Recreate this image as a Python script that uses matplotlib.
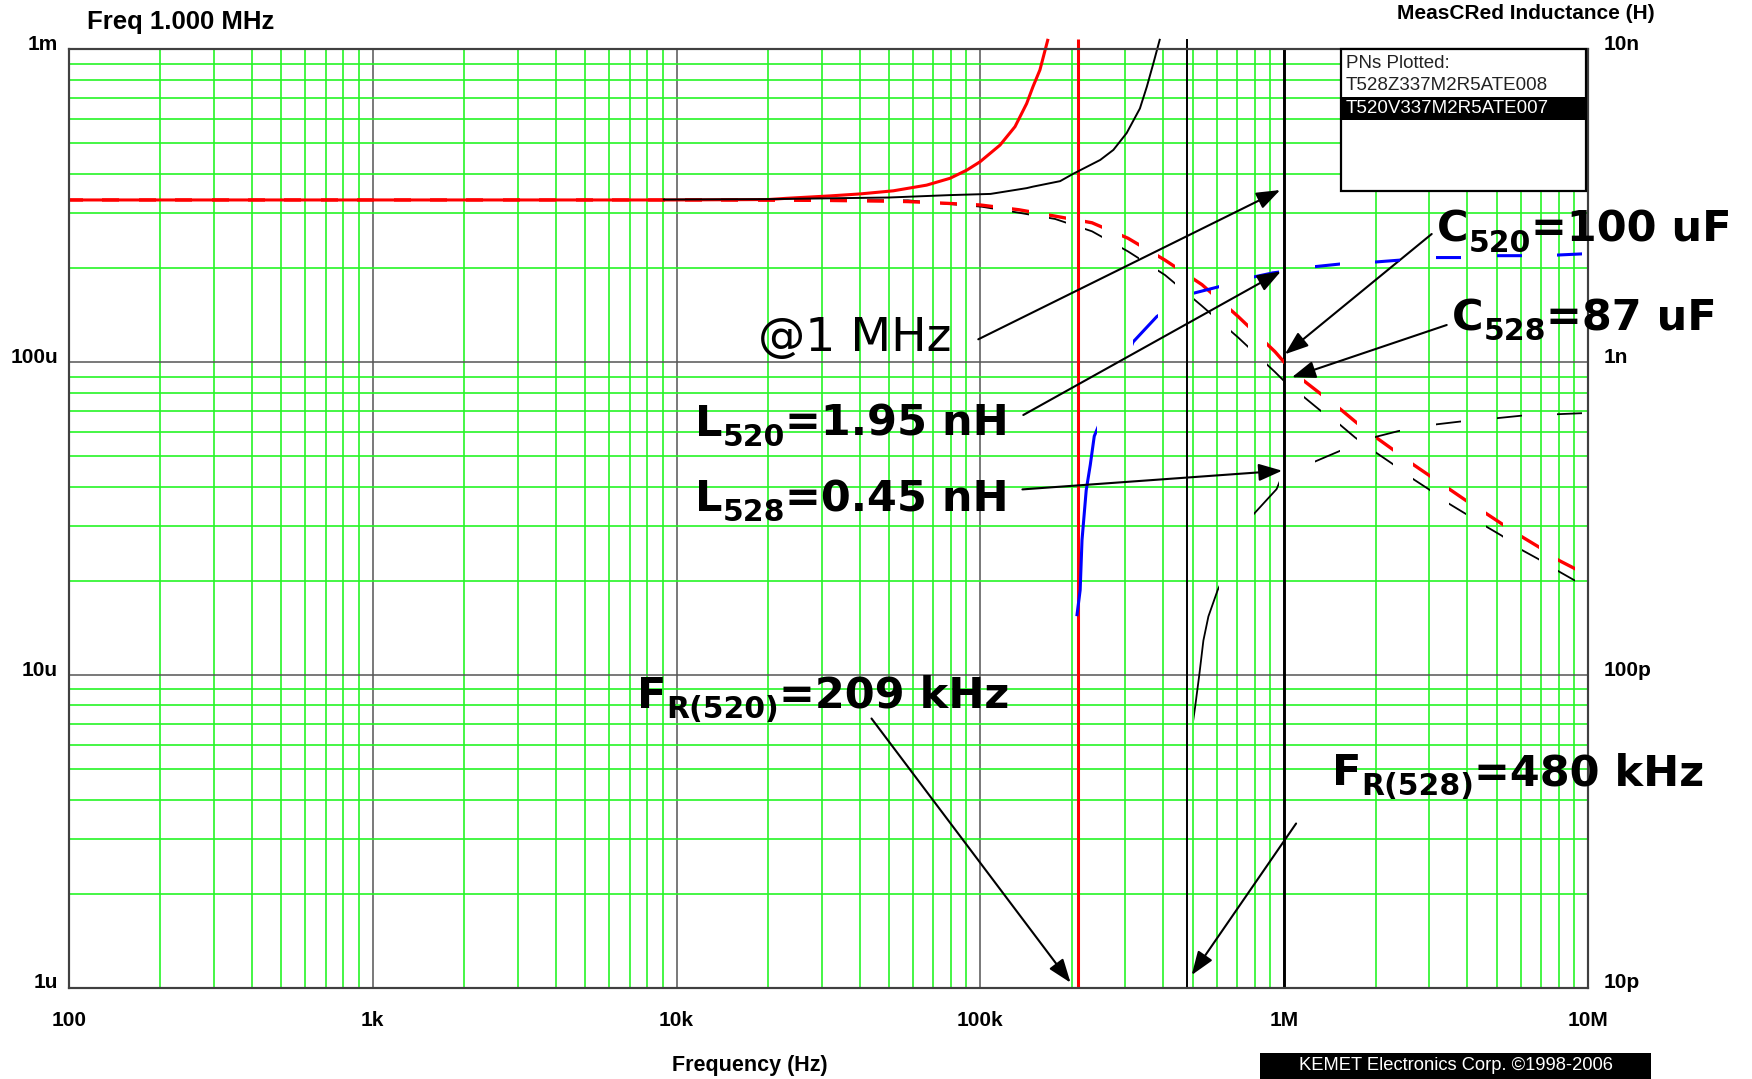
import numpy as np
import matplotlib
matplotlib.use("Agg")
import matplotlib.pyplot as plt
from matplotlib import font_manager
from matplotlib.path import Path
from matplotlib.patches import Rectangle, ArrowStyle
from matplotlib.transforms import IdentityTransform, blended_transform_factory, offset_copy
from matplotlib.ticker import FixedLocator, LogLocator, NullFormatter, NullLocator

# ---------------------------------------------------------------- data
# T520V337M2R5ATE007 (red) - effective capacitance, solid
t520_ceff_f = [1e2, 1e3, 1e4, 2.0e4, 2.3e4, 3.2e4, 4.02e4, 5.17e4, 6.65e4, 7.94e4,
               9.02e4, 9.97e4, 1.16e5, 1.30e5, 1.42e5, 1.49e5, 1.57e5, 1.67e5]
t520_ceff = [330e-6, 330e-6, 330e-6, 331e-6, 334e-6, 340e-6, 345e-6, 353e-6, 368e-6,
             387e-6, 411e-6, 437e-6, 494e-6, 566e-6, 671e-6, 760e-6, 859e-6, 1.08e-3]
# T520 capacitance, dashed
t520_c_f = [1e2, 1e3, 1e4, 3.0e4, 5.0e4, 5.8e4, 7.7e4, 1.0e5, 1.34e5, 1.76e5, 2.33e5,
            3.06e5, 4.05e5, 5.36e5, 7.05e5, 9.33e5, 1.0e6, 1.13e6, 1.31e6, 1.53e6,
            1.73e6, 2.02e6, 2.29e6, 2.65e6, 3.04e6, 3.47e6, 3.99e6, 4.61e6, 5.24e6,
            6.05e6, 6.92e6, 7.99e6, 9.13e6]
t520_c = [330e-6, 330e-6, 330e-6, 329e-6, 327e-6, 326e-6, 322e-6, 318e-6, 307e-6,
          293e-6, 279e-6, 249e-6, 212e-6, 177e-6, 140e-6, 108e-6, 100e-6, 89e-6,
          79.6e-6, 70.8e-6, 64.1e-6, 57.2e-6, 52.4e-6, 47.2e-6, 43.1e-6, 39.5e-6,
          36.0e-6, 32.9e-6, 30.3e-6, 27.7e-6, 25.6e-6, 23.3e-6, 21.8e-6]
# T520 inductance (right axis), blue dashed
t520_l_f = [2.08e5, 2.13e5, 2.16e5, 2.23e5, 2.30e5, 2.37e5, 3.18e5, 3.81e5, 5.01e5,
            6.06e5, 7.89e5, 9.18e5, 1.0e6, 1.26e6, 1.53e6, 1.99e6, 2.41e6, 3.16e6,
            3.85e6, 5.0e6, 6.08e6, 7.93e6, 9.66e6]
t520_l = [156e-12, 187e-12, 270e-12, 390e-12, 470e-12, 580e-12, 1.16e-9, 1.40e-9,
          1.66e-9, 1.74e-9, 1.87e-9, 1.93e-9, 1.95e-9, 2.02e-9, 2.06e-9, 2.09e-9,
          2.12e-9, 2.16e-9, 2.16e-9, 2.19e-9, 2.19e-9, 2.20e-9, 2.22e-9]
t520_fr = 209e3

# T528Z337M2R5ATE008 (black) - effective capacitance, solid
t528_ceff_f = [9e3, 2.0e4, 5.0e4, 7.94e4, 1.08e5, 1.42e5, 1.49e5, 1.83e5, 2.02e5,
               2.48e5, 2.74e5, 3.03e5, 3.35e5, 3.53e5, 3.71e5, 3.90e5]
t528_ceff = [331e-6, 332e-6, 336e-6, 342e-6, 345e-6, 360e-6, 364e-6, 379e-6, 400e-6,
             443e-6, 477e-6, 540e-6, 647e-6, 759e-6, 902e-6, 1.08e-3]
# T528 capacitance, dashed
t528_c_f = [9e3, 3.0e4, 5.78e4, 7.71e4, 1.01e5, 1.35e5, 1.76e5, 2.33e5, 3.06e5,
            4.05e5, 5.33e5, 7.05e5, 9.33e5, 1.0e6, 1.15e6, 1.31e6, 1.53e6, 1.71e6,
            2.0e6, 2.26e6, 2.63e6, 3.01e6, 3.47e6, 3.97e6, 4.58e6, 5.2e6, 5.97e6,
            6.86e6, 7.98e6, 9.18e6]
t528_c = [331e-6, 330e-6, 329e-6, 321e-6, 314e-6, 300e-6, 287e-6, 262e-6, 226e-6,
          190e-6, 152e-6, 120e-6, 93e-6, 87e-6, 78e-6, 70.3e-6, 63e-6, 57.5e-6,
          51.5e-6, 47.5e-6, 42.6e-6, 39.1e-6, 35.4e-6, 32.7e-6, 30.0e-6, 27.9e-6,
          25.3e-6, 23.5e-6, 21.5e-6, 19.9e-6]
# T528 inductance (right axis), black dashed
t528_l_f = [5.0e5, 5.09e5, 5.26e5, 5.42e5, 5.63e5, 6.04e5, 7.89e5, 9.44e5, 1.0e6,
            1.26e6, 1.55e6, 2.01e6, 2.37e6, 3.17e6, 3.79e6, 4.98e6, 6.07e6, 7.93e6,
            9.53e6]
t528_l = [70e-12, 79e-12, 101e-12, 129e-12, 154e-12, 187e-12, 325e-12, 393e-12,
          450e-12, 481e-12, 524e-12, 578e-12, 602e-12, 633e-12, 646e-12, 662e-12,
          675e-12, 682e-12, 687e-12]
t528_fr = 480e3

freq_ticks = [1e2, 1e3, 1e4, 1e5, 1e6, 1e7]
freq_labels = ["100", "1k", "10k", "100k", "1M", "10M"]
cap_ticks = [1e-6, 1e-5, 1e-4, 1e-3]
cap_labels = ["1u", "10u", "100u", "1m"]
ind_ticks = [1e-11, 1e-10, 1e-9, 1e-8]
ind_labels = ["10p", "100p", "1n", "10n"]
part_numbers = ["T528Z337M2R5ATE008", "T520V337M2R5ATE007"]
cursor_freq = 1e6

# ---------------------------------------------------------------- figure
W, H, DPI = 1752, 1079, 100
plt.rcParams["font.family"] = ["Liberation Sans", "DejaVu Sans"]

fig = plt.figure(figsize=(W / DPI, H / DPI), dpi=DPI, facecolor="white")


def fx(x):
    return x / W


def fy(y):
    return 1 - y / H


L, R, T, B = 69, 1588, 49.3, 988
ax = fig.add_axes([fx(L), fy(B), (R - L) / W, (B - T) / H])
ax2 = ax.twinx()

GREEN = "#26f526"
for a in (ax, ax2):
    a.set_xscale("log")
    a.set_yscale("log")
    a.set_xlim(1e2, 1e7)
ax.set_ylim(1e-6, 1e-3)
ax2.set_ylim(1e-11, 1e-8)

ax.xaxis.set_major_locator(FixedLocator(freq_ticks))
ax.yaxis.set_major_locator(FixedLocator(cap_ticks))
ax.xaxis.set_minor_locator(LogLocator(base=10, subs=np.arange(2, 10), numticks=30))
ax.yaxis.set_minor_locator(LogLocator(base=10, subs=np.arange(2, 10), numticks=30))
for axis in (ax.xaxis, ax.yaxis):
    axis.set_major_formatter(NullFormatter())
    axis.set_minor_formatter(NullFormatter())
ax2.yaxis.set_major_locator(NullLocator())
ax2.yaxis.set_minor_locator(NullLocator())
ax2.yaxis.set_major_formatter(NullFormatter())
ax2.yaxis.set_minor_formatter(NullFormatter())

ax.set_axisbelow(True)
ax.grid(which="minor", color=GREEN, lw=1.2)
ax.grid(which="major", color="#555555", lw=1.1)
ax.tick_params(which="both", length=0)
ax2.tick_params(which="both", length=0)
for a in (ax, ax2):
    for s in a.spines.values():
        s.set_color("#404040")
        s.set_linewidth(1.5)

# cursor line at the readout frequency
ax.axvline(cursor_freq, color="black", lw=2.1, zorder=1.6)

# tick labels
tick_font = dict(fontfamily=["Liberation Sans", "DejaVu Sans"], fontweight="bold", fontsize=15)
left_tr = offset_copy(blended_transform_factory(ax.transAxes, ax.transData), fig=fig, x=-11, y=5, units="dots")
right_tr = offset_copy(blended_transform_factory(ax2.transAxes, ax2.transData), fig=fig, x=16, y=5, units="dots")
bottom_tr = offset_copy(blended_transform_factory(ax.transData, ax.transAxes), fig=fig, x=0, y=-32, units="dots")
for v, s in zip(cap_ticks, cap_labels):
    ax.text(0, v, s, transform=left_tr, ha="right", va="center", clip_on=False, **tick_font)
for v, s in zip(ind_ticks, ind_labels):
    ax2.text(1, v, s, transform=right_tr, ha="left", va="center", clip_on=False, **tick_font)
for v, s in zip(freq_ticks, freq_labels):
    ax.text(v, 0, s, transform=bottom_tr, ha="center", va="center", clip_on=False, **tick_font)


def x_stripes(axes, line, period, dash, start):
    """Clip a line to vertical stripes so the dash pattern follows frequency."""
    x0 = axes.transData.transform((cursor_freq, 1.0))[0] + start
    verts, codes = [], []
    kmin = int(np.floor(-x0 / period)) - 1
    kmax = int(np.ceil((W - x0) / period)) + 1
    for k in range(kmin, kmax):
        a0 = x0 + k * period
        a1 = a0 + dash
        verts += [(a0, -10), (a1, -10), (a1, H + 10), (a0, H + 10), (a0, -10)]
        codes += [Path.MOVETO, Path.LINETO, Path.LINETO, Path.LINETO, Path.CLOSEPOLY]
    line.set_clip_path(Path(verts, codes), IdentityTransform())


RED, BLUE = "#ff0000", "#0000ff"
top_v, bot_v = 1.08e-3, 1e-6

# effective capacitance curves and their resonance jumps
ax.plot(t520_ceff_f, t520_ceff, color=RED, lw=2.2, zorder=3, clip_on=False, solid_capstyle="butt")
ax.plot([t520_fr, t520_fr], [top_v, bot_v], color=RED, lw=2.2, zorder=3, clip_on=False, solid_capstyle="butt")
ax.plot(t528_ceff_f, t528_ceff, color="black", lw=1.4, zorder=4, clip_on=False, solid_capstyle="butt")
ax.plot([t528_fr, t528_fr], [top_v, bot_v], color="black", lw=1.4, zorder=4, clip_on=False, solid_capstyle="butt")

# capacitance curves (short dashes)
ln, = ax.plot(t520_c_f, t520_c, color=RED, lw=2.4, zorder=3.5)
x_stripes(ax, ln, 36.4, 17, -17)
ln, = ax.plot(t528_c_f, t528_c, color="black", lw=1.3, zorder=3.4)
x_stripes(ax, ln, 36.4, 17, -17)

# inductance curves (long dashes, right axis)
ln, = ax2.plot(t520_l_f, t520_l, color=BLUE, lw=2.2, zorder=3)
x_stripes(ax2, ln, 60.6, 25, -30)
ln, = ax2.plot(t528_l_f, t528_l, color="black", lw=1.3, zorder=3)
x_stripes(ax2, ln, 60.6, 25, -30)

# header / axis titles
fig.text(fx(87), fy(29), "Freq 1.000 MHz", fontsize=18.5, fontweight="bold", va="baseline", ha="left")
fig.text(fx(1397), fy(19.3), "MeasCRed Inductance (H)", fontsize=15, fontweight="bold", va="baseline", ha="left")
fig.text(fx(750), fy(1066), "Frequency (Hz)", fontsize=15.5, fontweight="bold", va="center", ha="center")

# part-number box
fig.add_artist(Rectangle((fx(1341), fy(190.7)), (1586 - 1341) / W, (190.7 - 49.3) / H,
                         transform=fig.transFigure, facecolor="white", edgecolor="black", lw=1.6, zorder=5))
fig.add_artist(Rectangle((fx(1342), fy(120)), (1585 - 1342) / W, 23 / H,
                         transform=fig.transFigure, facecolor="black", edgecolor="none", zorder=6))
fig.text(fx(1346), fy(64), "PNs Plotted:", fontsize=13.5, va="center", ha="left", zorder=7, color="#222222")
fig.text(fx(1346), fy(86), part_numbers[0], fontsize=13.5, va="center", ha="left", zorder=7, color="#222222")
fig.text(fx(1346), fy(108.5), part_numbers[1], fontsize=13.5, va="center", ha="left", zorder=7, color="white")

# footer box
names = {f.name for f in font_manager.fontManager.ttflist}
if "Liberation Sans Narrow" in names:
    foot_family, foot_size = "Liberation Sans Narrow", 15.5
else:
    foot_family, foot_size = "Liberation Sans", 13.2
fig.add_artist(Rectangle((fx(1260), 0), (1651 - 1260) / W, (1079 - 1052.5) / H,
                         transform=fig.transFigure, facecolor="black", edgecolor="none", zorder=5))
fig.text(fx(1456), fy(1066), "KEMET Electronics Corp. \u00a91998-2006", fontsize=foot_size,
         fontfamily=foot_family, color="white", va="center", ha="center", zorder=6)

# callouts
renderer = fig.canvas.get_renderer()
MAIN_PT, SUB_PT, SUB_DROP = 31, 21.5, 10


def rich_label(x_px, base_px, head, sub, tail):
    """Bold label with a lowered subscript, laid out piece by piece."""
    x = x_px
    for s, size, drop in ((head, MAIN_PT, 0), (sub, SUB_PT, SUB_DROP), (tail, MAIN_PT, 0)):
        t = fig.text(fx(x), fy(base_px + drop), s, fontfamily="DejaVu Sans", fontweight="bold",
                     fontsize=size, va="baseline", ha="left")
        x += t.get_window_extent(renderer).width


fig.text(fx(757.5), fy(351), "@1 MHz", fontfamily="DejaVu Sans", fontsize=34, va="baseline", ha="left")
rich_label(695, 436, "L", "520", "=1.95 nH")
rich_label(695, 511, "L", "528", "=0.45 nH")
rich_label(637, 708, "F", "R(520)", "=209 kHz")
rich_label(1436.7, 241.5, "C", "520", "=100 uF")
rich_label(1451.7, 330.5, "C", "528", "=87 uF")
rich_label(1332, 785, "F", "R(528)", "=480 kHz")

arrow = dict(arrowstyle=ArrowStyle("-|>", head_length=0.6, head_width=0.22), mutation_scale=24,
             lw=1.5, color="black", shrinkA=0, shrinkB=0)


def callout(axes, tip, tail_top):
    axes.annotate("", xy=tip, xycoords="data", xytext=(tail_top[0], H - tail_top[1]),
                  textcoords="figure pixels", arrowprops=arrow, annotation_clip=False, zorder=8)


callout(ax, (0.97e6, 355e-6), (978.3, 339.3))
callout(ax2, (0.975e6, 1.95e-9), (1023.3, 415))
callout(ax2, (0.985e6, 0.45e-9), (1022.4, 489.4))
callout(ax, (1.005e6, 106e-6), (1431.7, 234))
callout(ax, (1.06e6, 89.5e-6), (1446.7, 325))
callout(ax, (1.98e5, 1.04e-6), (871.5, 718.5))
callout(ax, (4.96e5, 1.1e-6), (1296.1, 823.5))

fig.savefig("out.png", dpi=DPI, facecolor="white")
